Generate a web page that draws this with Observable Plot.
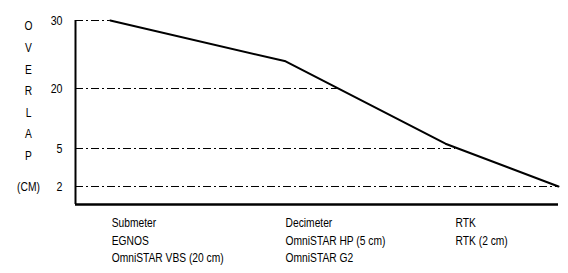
<!DOCTYPE html>
<html><head><meta charset="utf-8">
<script src="https://cdn.jsdelivr.net/npm/d3@7"></script>
<script src="https://cdn.jsdelivr.net/npm/@observablehq/plot@0.6"></script>
<style>body{margin:0;background:#fff}</style>
</head><body><div id="chart"></div>
<script>
// Overlap curve (x in relative position units 0-100 along the accuracy axis, y in cm)
const lineX = [7.2, 43.5, 76.6, 100];
const lineY = [30, 24, 6.2, 2];
// Y tick values and where each dash-dot guide meets the curve
const tickValues = [30, 20, 5, 2];
const gridEnd = [7.2, 54.2, 78.7, 100];
// Category labels under the axis
const categoryX = [7.5, 43.5, 78.7];
const categoryLabels = [
  "Submeter\nEGNOS\nOmniSTAR VBS (20 cm)",
  "Decimeter\nOmniSTAR HP (5 cm)\nOmniSTAR G2",
  "RTK\nRTK (2 cm)"
];
const axisTitle = "O\nV\nE\nR\nL\nA\nP";
const axisUnit = "(CM)";

const font = "'Liberation Sans', Arial, sans-serif";
const curve = lineX.map((x, i) => ({x, y: lineY[i]}));
const guides = tickValues.map((y, i) => ({y, x2: gridEnd[i]}));

const chart = Plot.plot({
  width: 568,
  height: 273,
  marginTop: 20,
  marginBottom: 69,
  marginLeft: 75,
  marginRight: 10,
  style: {fontFamily: font, fontSize: "12.5px", background: "#fff", color: "#000"},
  x: {domain: [0, 100], axis: null},
  y: {type: "linear", domain: [0, 2, 5, 20, 30], range: [204, 186, 148, 88, 20], axis: null},
  marks: [
    Plot.ruleY(guides, {y: "y", x1: 0, x2: "x2", stroke: "#000", strokeWidth: 1, strokeDasharray: "8,3,2,3"}),
    Plot.line(curve, {x: "x", y: "y", stroke: "#000", strokeWidth: 2}),
    Plot.ruleX([0], {y1: 0, y2: 30, stroke: "#000", strokeWidth: 2}),
    Plot.ruleY([0], {x1: 0, x2: 100, stroke: "#000", strokeWidth: 2.5}),
    Plot.text(tickValues, {x: 0, y: d => d, text: d => String(d), dx: -13, textAnchor: "end", fontSize: 13}),
    Plot.text([axisTitle], {x: 0, y: 30, dx: -47, dy: -5.5, lineAnchor: "top", textAnchor: "middle", lineHeight: 1.73, fontSize: 12.5}),
    Plot.text([axisUnit], {x: 0, y: 2, dx: -47, textAnchor: "middle", fontSize: 12.5}),
    Plot.text(categoryLabels, {x: categoryX, frameAnchor: "bottom", dy: 10.5, lineAnchor: "top", textAnchor: "start", lineHeight: 1.4, fontSize: 12.5})
  ]
});
// Narrow the glyphs horizontally (Arial Narrow look) around each text's anchor point
const num = v => { const n = parseFloat(v); return (v && /^-?[\d.]+(px)?$/.test(v) && isFinite(n)) ? n : 0; };
chart.querySelectorAll("text").forEach(t => {
  const tr = t.getAttribute("transform") || "";
  const x = num(t.getAttribute("x")), y = num(t.getAttribute("y"));
  t.setAttribute("transform", `${tr} translate(${x},${y}) scale(0.82,1) translate(${-x},${-y})`.trim());
});
document.getElementById("chart").appendChild(chart);
</script>
</body></html>
